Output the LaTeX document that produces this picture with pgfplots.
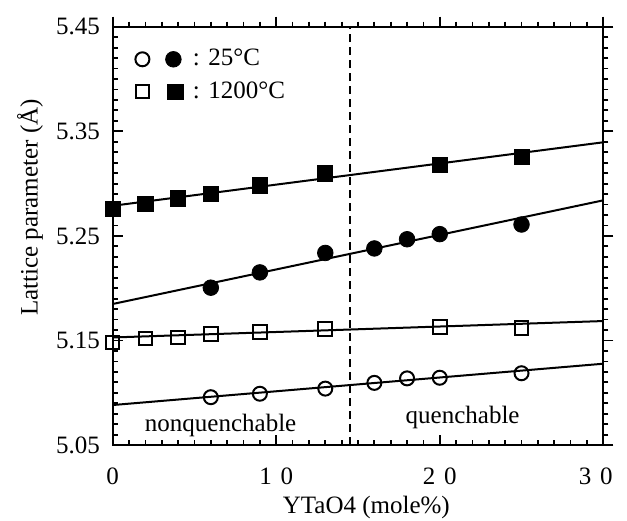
\documentclass[border=0pt]{standalone}
\usepackage{fontspec}
\setmainfont{Liberation Serif}
\usepackage{pgfplots}
\pgfplotsset{compat=1.18}
\newcommand{\ff}{\fontsize{12.5}{15}\selectfont}
\begin{document}
\ff
\begin{tikzpicture}
\pgfplotsset{
 commonaxis/.style={
  scale only axis, width=245.3pt, height=209.2pt,
  xmin=0, xmax=30, ymin=5.05, ymax=5.45,
  xtick={0,10,20,30}, ytick={5.05,5.15,5.25,5.35,5.45},
  minor x tick num=9, minor y tick num=9,
  major tick length=5pt, minor tick length=2.5pt,
  axis line style={line width=1.1pt},
  every tick/.style={black, line width=0.9pt},
  tick label style={font=\ff},
  label style={font=\ff},
 }
}
\begin{axis}[commonaxis, xtick pos=right, ytick pos=right, tick align=outside, xticklabels={}, yticklabels={}]
\end{axis}
\begin{axis}[commonaxis, xtick pos=left, ytick pos=left, tick align=inside,
  /pgf/number format/assume math mode=true,
  xticklabels={0,1\hspace{0.35em}0,2\hspace{0.35em}0,\hspace*{-7.5pt}3\hspace{0.35em}0},
  yticklabels={5.05,5.15,5.25,5.35,5.45},
  xticklabel style={anchor=center, yshift=-15.5pt},
  yticklabel style={xshift=-2pt},
  xlabel={YTaO4 (mole\%)}, ylabel={Lattice parameter (Å)},
  xlabel style={at={(axis description cs:0.517,-0.163)}, anchor=base},
  ylabel style={at={(axis description cs:-0.1686,0.568)}, anchor=center},
  legend columns=1, legend cell align=left,
  legend style={draw=none, fill=none, font=\ff, at={(axis description cs:0,1)}, anchor=north west, xshift=11.15pt, yshift=-9pt, inner sep=0pt, row sep=2pt},
]
% dividing line
\addplot[black, line width=0.9pt, dash pattern=on 4pt off 2.5pt, forget plot] coordinates {(14.5,5.05) (14.5,5.45)};
% fitted lines
\addplot[black, line width=1pt, forget plot] coordinates {(0,5.2788) (30,5.3395)};
\addplot[black, line width=1pt, forget plot] coordinates {(0,5.1849) (30,5.2840)};
\addplot[black, line width=1pt, forget plot] coordinates {(0,5.1529) (30,5.1686)};
\addplot[black, line width=1pt, forget plot] coordinates {(0,5.0883) (30,5.1278)};
% data
\addplot[black, only marks, mark=o, mark size=3.5pt, line width=1pt, forget plot] coordinates {
 (6,5.0958) (9,5.0991) (13,5.1040) (16,5.1095) (18,5.1138) (20,5.1144) (25,5.1187)};
\addplot[black, only marks, mark=*, mark size=3.9pt, forget plot] coordinates {
 (6,5.2005) (9,5.2151) (13,5.2337) (16,5.2380) (18,5.2468) (20,5.2517) (25,5.2609)};
\addplot[black, only marks, mark=square, mark size=3.4pt, line width=1pt, forget plot] coordinates {
 (0,5.1480) (2,5.1519) (4,5.1529) (6,5.1562) (9,5.1584) (13,5.1610) (20,5.1627) (25,5.1617)};
\addplot[black, only marks, mark=square*, mark size=3.8pt, forget plot] coordinates {
 (0,5.2755) (2,5.2804) (4,5.2859) (6,5.2902) (9,5.2983) (13,5.3097) (20,5.3179) (25,5.3254)};
\addlegendimage{legend image code/.code={
  \draw[black, line width=1pt, only marks, mark=o, mark size=3.5pt] plot coordinates {(0pt,0pt)};
  \draw[black, only marks, mark=*, mark size=3.9pt] plot coordinates {(15.5pt,0pt)};}}
\addlegendentry{\hspace{3pt}: 25°C}
\addlegendimage{legend image code/.code={
  \draw[black, line width=1pt, only marks, mark=square, mark size=3.4pt] plot coordinates {(0pt,0pt)};
  \draw[black, only marks, mark=square*, mark size=3.8pt] plot coordinates {(16.5pt,0pt)};}}
\addlegendentry{\hspace{3pt}: 1200°C}
\node[font=\ff] at (axis cs:6.6,5.069) {nonquenchable};
\node[font=\ff] at (axis cs:21.4,5.076) {quenchable};
\end{axis}
\pgfresetboundingbox
\path ([shift={(-56.35pt,-37.5pt)}]current axis.south west) rectangle ([shift={(11.85pt,13.35pt)}]current axis.north east);
\end{tikzpicture}
\end{document}
